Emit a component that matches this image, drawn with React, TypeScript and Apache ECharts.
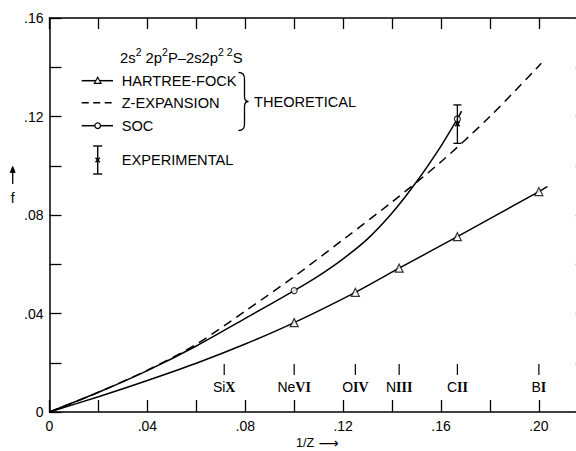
import React, { useEffect, useRef } from "react";
import * as echarts from "echarts";

// ---- data ----
const ionX = [0.0714, 0.1, 0.125, 0.1429, 0.1667, 0.2];
const ionElement = ["Si", "Ne", "O", "N", "C", "B"];
const ionStage = ["X", "VI", "IV", "III", "II", "I"];

const hfX = [0, 0.02, 0.04, 0.06, 0.08, 0.1, 0.125, 0.1429, 0.1667, 0.2, 0.2035];
const hfY = [0, 0.0062, 0.0128, 0.0198, 0.0276, 0.0363, 0.0486, 0.0584, 0.0712, 0.0895, 0.0915];
const hfMarkX = [0.1, 0.125, 0.1429, 0.1667, 0.2];
const hfMarkY = [0.0363, 0.0486, 0.0584, 0.0712, 0.0895];

const zexpX = [0, 0.02, 0.04, 0.06, 0.08, 0.1, 0.12, 0.14, 0.16, 0.18, 0.201];
const zexpY = [0, 0.008, 0.017, 0.0275, 0.041, 0.055, 0.07, 0.0853, 0.1016, 0.12, 0.1416];

const socX = [0, 0.02, 0.04, 0.06, 0.08, 0.1, 0.11, 0.12, 0.13, 0.14, 0.15, 0.16, 0.1667, 0.1684];
const socY = [0, 0.008, 0.0168, 0.0268, 0.038, 0.0493, 0.0553, 0.0622, 0.0703, 0.0808, 0.0935, 0.108, 0.119, 0.1222];
const socMarkX = [0.1, 0.1667];
const socMarkY = [0.0493, 0.119];

const expX = [0.1667];
const expY = [0.117];
const expLow = [0.1091];
const expHigh = [0.1247];

const legendLabels = ["HARTREE-FOCK", "Z-EXPANSION", "SOC", "EXPERIMENTAL"];
const groupLabel = "THEORETICAL";
const xName = "1/Z";
const yName = "f";

const FONT = '"Liberation Sans", Arial, sans-serif';
const SERIF = '"Liberation Serif", "DejaVu Serif", serif';

try {
  echarts.graphic.registerShape(
    "brace",
    echarts.graphic.extendPath(
      "M0,0 Q6,0 6,6 L6,24 Q6,29 10,29 Q6,29 6,34 L6,52 Q6,58 0,58",
      {}
    )
  );
} catch (e) {
  /* ignore */
}

const zip = (a: number[], b: number[]) => a.map((v, i) => [v, b[i]]);

const fmt = (v: number) => {
  const n = Math.round(v * 100);
  if (n === 0) return "0";
  if (n % 4 === 0) return "." + String(n).padStart(2, "0");
  return "";
};

const axisLine = { show: true, onZero: false, lineStyle: { color: "#000", width: 1.5 } };
const tick = (len: number) => ({ show: true, inside: true, length: len, lineStyle: { color: "#000", width: 1.3 } });

function buildOption(): any {
  const lx1 = 81.7, lx2 = 113, lxm = 97.7, tx = 121.7;
  const legendFont = { fontSize: 14.6, fontFamily: FONT, fill: "#000" };
  return {
    animation: false,
    backgroundColor: "#fff",
    grid: { left: 49.5, top: 18, width: 538.3, height: 394 },
    xAxis: [
      {
        type: "value", position: "bottom", min: 0, max: 0.22, interval: 0.02,
        axisLine, axisTick: tick(12), splitLine: { show: false },
        axisLabel: { formatter: fmt, color: "#000", fontSize: 14, fontFamily: FONT, margin: 7, showMinLabel: true, showMaxLabel: true },
      },
      {
        type: "value", position: "top", min: 0, max: 0.22, interval: 0.02,
        axisLine, axisTick: tick(11), splitLine: { show: false }, axisLabel: { show: false },
      },
    ],
    yAxis: [
      {
        type: "value", position: "left", min: 0, max: 0.16, interval: 0.02,
        axisLine, axisTick: tick(12), splitLine: { show: false },
        axisLabel: { formatter: fmt, color: "#000", fontSize: 14, fontFamily: FONT, margin: 6, showMinLabel: true, showMaxLabel: true },
      },
      {
        type: "value", position: "right", min: 0, max: 0.16, interval: 0.02,
        axisLine, axisTick: tick(12), splitLine: { show: false }, axisLabel: { show: false },
      },
    ],
    series: [
      {
        name: legendLabels[0], type: "line", data: zip(hfX, hfY), smooth: 0.3,
        symbol: "none", lineStyle: { color: "#000", width: 1.5 }, z: 2,
      },
      {
        name: legendLabels[1], type: "line", data: zip(zexpX, zexpY), smooth: 0.3,
        symbol: "none", lineStyle: { color: "#000", width: 1.5, type: [9, 6] }, z: 2,
      },
      {
        name: legendLabels[2], type: "line", data: zip(socX, socY), smooth: 0.3,
        symbol: "none", lineStyle: { color: "#000", width: 1.5 }, z: 2,
      },
      {
        type: "scatter", data: zip(hfMarkX, hfMarkY), symbol: "triangle", symbolSize: [8, 8],
        itemStyle: { color: "#fff", borderColor: "#000", borderWidth: 1.2 }, z: 3,
      },
      {
        type: "scatter", data: zip(socMarkX, socMarkY), symbol: "circle", symbolSize: 6,
        itemStyle: { color: "#fff", borderColor: "#000", borderWidth: 1.2 }, z: 3,
      },
      {
        name: legendLabels[3], type: "custom", z: 4,
        data: expX.map((x, i) => [x, expY[i], expLow[i], expHigh[i]]),
        renderItem: (params: any, api: any) => {
          const x = api.value(0);
          const c = api.coord([x, api.value(1)]);
          const lo = api.coord([x, api.value(2)]);
          const hi = api.coord([x, api.value(3)]);
          const s = { stroke: "#000", lineWidth: 1.3 };
          const m = 2.2;
          return {
            type: "group",
            children: [
              { type: "line", shape: { x1: lo[0], y1: lo[1], x2: hi[0], y2: hi[1] }, style: s },
              { type: "line", shape: { x1: lo[0] - 4, y1: lo[1], x2: lo[0] + 4, y2: lo[1] }, style: s },
              { type: "line", shape: { x1: hi[0] - 4, y1: hi[1], x2: hi[0] + 4, y2: hi[1] }, style: s },
              { type: "line", shape: { x1: c[0] - m, y1: c[1] - m, x2: c[0] + m, y2: c[1] + m }, style: { stroke: "#000", lineWidth: 1.6 } },
              { type: "line", shape: { x1: c[0] - m, y1: c[1] + m, x2: c[0] + m, y2: c[1] - m }, style: { stroke: "#000", lineWidth: 1.6 } },
            ],
          };
        },
      },
      {
        type: "custom", z: 4,
        data: ionX.map((x, i) => [x, 0, i]),
        renderItem: (params: any, api: any) => {
          const p = api.coord([api.value(0), 0]);
          const i = api.value(2);
          return {
            type: "group",
            children: [
              { type: "line", shape: { x1: p[0], y1: p[1] - 48, x2: p[0], y2: p[1] - 37 }, style: { stroke: "#000", lineWidth: 1.2 } },
              {
                type: "text", x: p[0], y: p[1] - 25,
                style: {
                  text: `{a|${ionElement[i]}}{b|${ionStage[i]}}`,
                  align: "center", verticalAlign: "middle",
                  rich: {
                    a: { fontSize: 14, fontFamily: FONT, fill: "#000" },
                    b: { fontSize: 14, fontFamily: SERIF, fontWeight: "bold", fill: "#000" },
                  },
                },
              },
            ],
          };
        },
      },
    ],
    graphic: [
      {
        type: "text", x: 120, y: 56,
        style: {
          text: "{b|2s}{s|2}{b| 2p}{s|2}{b|P–2s2p}{s|2 2}{b|S}",
          verticalAlign: "middle",
          rich: {
            b: { fontSize: 14.8, fontFamily: FONT, fill: "#000", verticalAlign: "bottom", lineHeight: 19 },
            s: { fontSize: 10.5, fontFamily: FONT, fill: "#000", verticalAlign: "top", lineHeight: 19 },
          },
        },
      },
      { type: "line", shape: { x1: lx1, y1: 80.7, x2: lx2, y2: 80.7 }, style: { stroke: "#000", lineWidth: 1.5 } },
      { type: "polygon", shape: { points: [[lxm, 77.3], [lxm + 3.3, 83.3], [lxm - 3.3, 83.3]] }, style: { fill: "#fff", stroke: "#000", lineWidth: 1.2 } },
      { type: "text", x: tx, y: 81, style: { text: legendLabels[0], verticalAlign: "middle", ...legendFont } },
      { type: "line", shape: { x1: lx1, y1: 102.7, x2: lx2, y2: 102.7 }, style: { stroke: "#000", lineWidth: 1.5, lineDash: [7, 4.5] } },
      { type: "text", x: tx, y: 103, style: { text: legendLabels[1], verticalAlign: "middle", ...legendFont } },
      { type: "line", shape: { x1: lx1, y1: 125.7, x2: lx2, y2: 125.7 }, style: { stroke: "#000", lineWidth: 1.5 } },
      { type: "circle", shape: { cx: lxm, cy: 125.7, r: 2.8 }, style: { fill: "#fff", stroke: "#000", lineWidth: 1.2 } },
      { type: "text", x: tx, y: 126, style: { text: legendLabels[2], verticalAlign: "middle", ...legendFont } },
      { type: "brace", x: 238.5, y: 72.5, style: { stroke: "#000", fill: "none", lineWidth: 1.3 } },
      { type: "text", x: 254, y: 102, style: { text: groupLabel, verticalAlign: "middle", ...legendFont } },
      { type: "line", shape: { x1: lxm, y1: 146, x2: lxm, y2: 174 }, style: { stroke: "#000", lineWidth: 1.4 } },
      { type: "line", shape: { x1: lxm - 4.5, y1: 146, x2: lxm + 4.5, y2: 146 }, style: { stroke: "#000", lineWidth: 1.4 } },
      { type: "line", shape: { x1: lxm - 4.5, y1: 174, x2: lxm + 4.5, y2: 174 }, style: { stroke: "#000", lineWidth: 1.4 } },
      { type: "line", shape: { x1: lxm - 2.2, y1: 157.8, x2: lxm + 2.2, y2: 162.2 }, style: { stroke: "#000", lineWidth: 1.5 } },
      { type: "line", shape: { x1: lxm - 2.2, y1: 162.2, x2: lxm + 2.2, y2: 157.8 }, style: { stroke: "#000", lineWidth: 1.5 } },
      { type: "text", x: tx, y: 159.5, style: { text: legendLabels[3], verticalAlign: "middle", ...legendFont } },
      {
        type: "text", x: 296, y: 443,
        style: {
          text: `{a|${xName}}{b| ⟶}`, verticalAlign: "middle",
          rich: {
            a: { fontSize: 12.5, fontFamily: FONT, fill: "#000" },
            b: { fontSize: 14, fontFamily: '"DejaVu Sans", sans-serif', fill: "#000" },
          },
        },
      },
      { type: "line", shape: { x1: 12.7, y1: 184, x2: 12.7, y2: 171 }, style: { stroke: "#000", lineWidth: 1.3 } },
      { type: "polygon", shape: { points: [[10.3, 172.5], [12.7, 166.5], [15.1, 172.5]] }, style: { fill: "#000", stroke: "#000", lineWidth: 1 } },
      { type: "text", x: 12.7, y: 198, style: { text: yName, align: "center", verticalAlign: "middle", fontSize: 14, fontFamily: FONT, fill: "#000" } },
    ],
  };
}

export default function App() {
  const ref = useRef<HTMLDivElement>(null);
  useEffect(() => {
    if (!ref.current) return;
    const chart = echarts.init(ref.current, null, { renderer: "svg" });
    chart.setOption(buildOption());
    return () => chart.dispose();
  }, []);
  return (
    <div style={{ position: "absolute", left: 0, top: 0, width: 576, height: 451, overflow: "hidden", background: "#fff" }}>
      <div ref={ref} style={{ width: 620, height: 451 }} />
    </div>
  );
}
